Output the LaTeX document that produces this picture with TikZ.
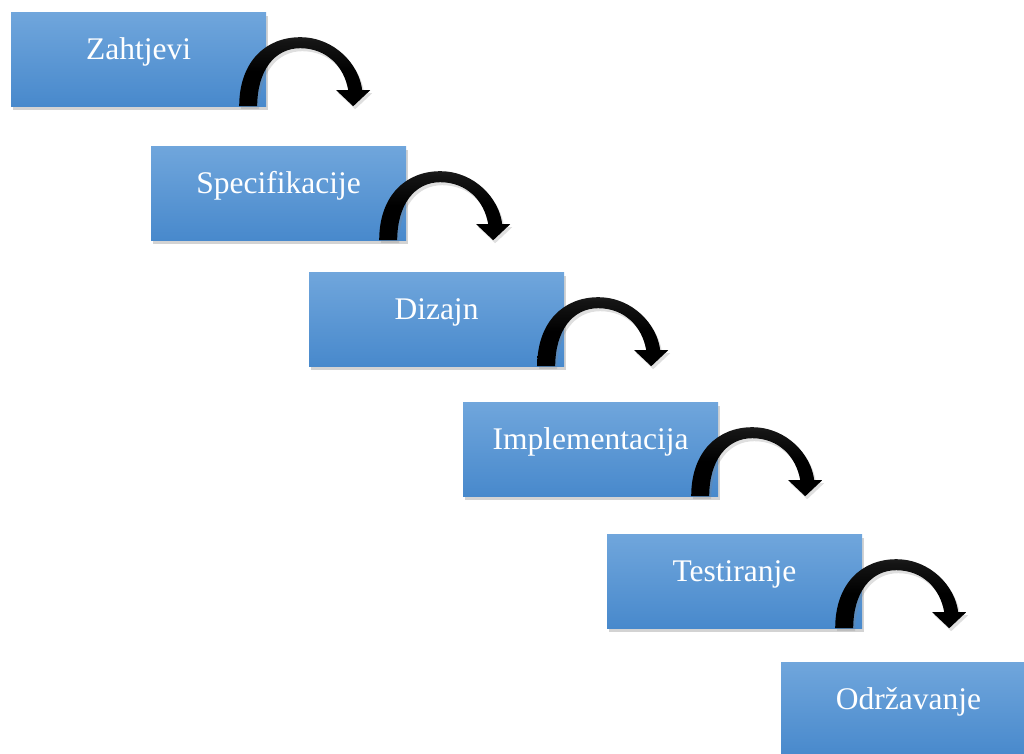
\documentclass[tikz,border=0pt]{standalone}
\usepackage{fontspec}
\setmainfont{Liberation Serif}
\usetikzlibrary{shadows}
\definecolor{boxtop}{RGB}{112,166,220}
\definecolor{boxmid}{RGB}{84,153,217}
\definecolor{boxbot}{RGB}{72,137,204}
\pgfdeclareverticalshading{arrowshade}{100bp}{color(0bp)=(black); color(50bp)=(black); color(72bp)=(black!92); color(86bp)=(black!80); color(100bp)=(black!70)}
\tikzset{
  stagebox/.style={rectangle, inner sep=0pt, minimum width=255pt,
    text height=47pt, text depth=47pt,
    top color=boxtop, middle color=boxmid, bottom color=boxbot,
    text=white, font=\fontsize{31.5}{36}\selectfont,
    drop shadow={opacity=0.35, shadow xshift=2pt, shadow yshift=-4pt}},
  turnarrow/.style={shading=arrowshade,
    drop shadow={opacity=0.25, shadow xshift=2pt, shadow yshift=-3pt}}
}
\newcommand{\stagearrow}[1]{%
  \begin{scope}[shift={(#1.south east)}]
    \shade[turnarrow] (-27,0) .. controls (-27,-45) and (0,-69) .. (34,-69)
      .. controls (68,-69) and (93,-42) .. (96,-16) -- (104,-16) -- (87,0) -- (70,-16) -- (82,-16)
      .. controls (78,-40) and (60,-58) .. (34,-58)
      .. controls (8,-58) and (-9,-35) .. (-9,0) -- cycle;
  \end{scope}}
\begin{document}
\begin{tikzpicture}[x=1pt,y=-1pt]
  \useasboundingbox (0,0) rectangle (1024,753);
  \clip (0,0) rectangle (1024,753);
  \node[stagebox] (b1) at (138.5,59) {Zahtjevi};
  \node[stagebox] (b2) at (278.5,193) {Specifikacije};
  \node[stagebox] (b3) at (436.5,319) {Dizajn};
  \node[stagebox] (b4) at (590.5,449) {Implementacija};
  \node[stagebox] (b5) at (734.5,581) {Testiranje};
  \node[stagebox] (b6) at (908.5,709) {Održavanje};
  \stagearrow{b1}
  \stagearrow{b2}
  \stagearrow{b3}
  \stagearrow{b4}
  \stagearrow{b5}
\end{tikzpicture}
\end{document}
